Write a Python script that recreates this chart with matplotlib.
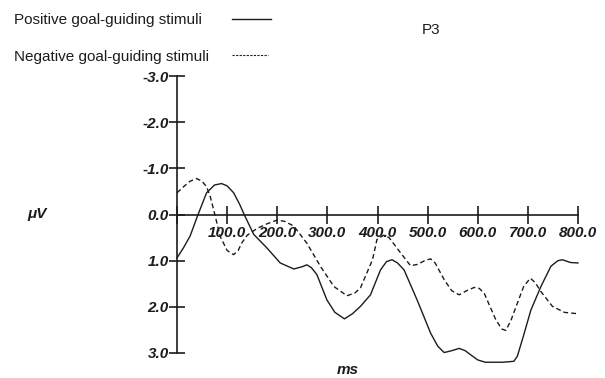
import matplotlib
matplotlib.use('Agg')
import matplotlib.pyplot as plt
from matplotlib.lines import Line2D

plt.rcParams['font.family'] = ['Liberation Sans', 'DejaVu Sans']

# ERP waveforms (ms, uV)
t_pos = [0, 13, 26, 42, 59, 75, 89, 100, 113, 125, 134, 153, 179, 206, 233, 250,
         259, 268, 279, 299, 315, 334, 350, 366, 386, 406, 418, 429, 440, 453,
         479, 506, 520, 533, 548, 563, 575, 586, 600, 615, 650, 672, 679, 692,
         706, 726, 746, 760, 769, 785, 800]
v_pos = [0.94, 0.72, 0.47, 0.0, -0.47, -0.64, -0.67, -0.62, -0.47, -0.22, 0.0,
         0.43, 0.72, 1.05, 1.18, 1.13, 1.09, 1.15, 1.30, 1.85, 2.12, 2.26, 2.15,
         1.99, 1.74, 1.20, 1.02, 0.98, 1.05, 1.20, 1.85, 2.57, 2.85, 2.99, 2.95,
         2.90, 2.95, 3.04, 3.15, 3.20, 3.20, 3.18, 3.07, 2.60, 2.07, 1.56, 1.12,
         1.00, 0.98, 1.04, 1.05]

t_neg = [0, 15, 26, 39, 50, 59, 66, 73, 86, 100, 113, 122, 129, 140, 160, 180,
         200, 215, 233, 259, 286, 313, 339, 355, 366, 390, 399, 412, 423, 446,
         466, 480, 494, 506, 515, 533, 548, 563, 578, 593, 603, 613, 636, 648,
         656, 666, 679, 692, 705, 715, 726, 749, 773, 800]
v_neg = [-0.47, -0.62, -0.72, -0.78, -0.72, -0.60, -0.40, -0.11, 0.47, 0.78,
         0.87, 0.78, 0.62, 0.45, 0.30, 0.20, 0.12, 0.15, 0.25, 0.62, 1.12, 1.56,
         1.76, 1.70, 1.59, 0.98, 0.54, 0.45, 0.50, 0.83, 1.11, 1.08, 1.00, 0.96,
         1.05, 1.41, 1.65, 1.74, 1.65, 1.58, 1.60, 1.71, 2.28, 2.48, 2.51, 2.30,
         1.92, 1.55, 1.38, 1.48, 1.67, 1.99, 2.12, 2.15]

x_ticks = [0, 100, 200, 300, 400, 500, 600, 700, 800]
x_labels = ['', '100.0', '200.0', '300.0', '400.0', '500.0', '600.0', '700.0', '800.0']
y_ticks = [-3, -2, -1, 0, 1, 2, 3]
y_labels = ['-3.0', '-2.0', '-1.0', '0.0', '1.0', '2.0', '3.0']

ink = '#1c1c1c'
dash = (0, (3.5, 2.2))

fig = plt.figure(figsize=(6.05, 3.78), dpi=100)
ax = fig.add_axes([177 / 605, 1 - 353 / 378, 401 / 605, 277 / 378])

ax.plot(t_pos, v_pos, color=ink, lw=1.0, clip_on=False)
ax.plot(t_neg, v_neg, color=ink, lw=1.0, linestyle=dash, clip_on=False)

ax.set_xlim(0, 800)
ax.set_ylim(3, -3)
ax.spines['top'].set_visible(False)
ax.spines['right'].set_visible(False)
ax.spines['bottom'].set_position(('data', 0))
for s in ('left', 'bottom'):
    ax.spines[s].set_color(ink)
    ax.spines[s].set_linewidth(1.2)

ax.set_xticks(x_ticks)
ax.set_xticklabels(x_labels)
ax.set_yticks(y_ticks)
ax.set_yticklabels(y_labels)
ax.tick_params(axis='x', direction='inout', length=13, width=1.2, color=ink, pad=2)
ax.tick_params(axis='y', direction='inout', length=12, width=1.2, color=ink, pad=0)
for lab in ax.get_xticklabels() + ax.get_yticklabels():
    lab.set_fontsize(11)
    lab.set_fontweight('bold')
    lab.set_fontstyle('italic')
    lab.set_color(ink)

fig.text(27 / 605, 1 - 214 / 378, 'μV', fontsize=11, fontweight='bold',
         fontstyle='italic', va='center', ha='left', color=ink)
fig.text(348 / 605, 1 - 370 / 378, 'ms', fontsize=11, fontweight='bold',
         fontstyle='italic', va='center', ha='center', color=ink)
fig.text(431 / 605, 1 - 30 / 378, 'P3', fontsize=11, va='center',
         ha='center', color=ink)

# legend drawn at the top left
fig.text(14 / 605, 1 - 20 / 378, 'Positive goal-guiding stimuli', fontsize=11,
         va='center', ha='left', color=ink)
fig.text(14 / 605, 1 - 57 / 378, 'Negative goal-guiding stimuli', fontsize=11,
         va='center', ha='left', color=ink)
fig.add_artist(Line2D([232 / 605, 271 / 605], [1 - 18.5 / 378] * 2,
                      color=ink, lw=1.0, transform=fig.transFigure))
fig.add_artist(Line2D([232 / 605, 268 / 605], [1 - 54.5 / 378] * 2,
                      color=ink, lw=0.8, linestyle=(0, (2, 1.2)),
                      transform=fig.transFigure))

plt.savefig('out.png', dpi=100)
plt.close()
